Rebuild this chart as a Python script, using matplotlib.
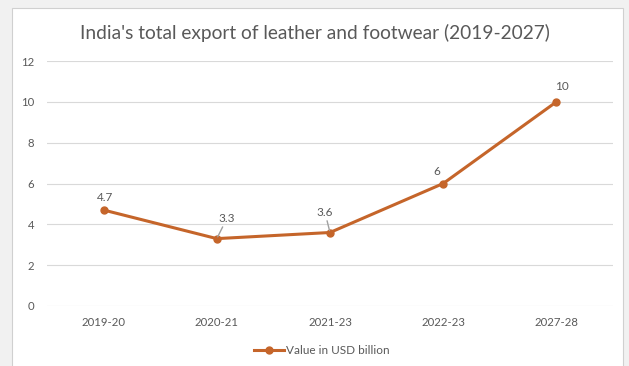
import matplotlib
matplotlib.use("Agg")
import matplotlib.pyplot as plt
from matplotlib.patches import Rectangle
from matplotlib.lines import Line2D

categories = ["2019-20", "2020-21", "2021-23", "2022-23", "2027-28"]
values = [4.7, 3.3, 3.6, 6, 10]
labels = ["4.7", "3.3", "3.6", "6", "10"]
yticks = [0, 2, 4, 6, 8, 10, 12]
series_name = "Value in USD billion"
title = "India's total export of leather and footwear (2019-2027)"

plt.rcParams['font.family'] = ['Lato', 'DejaVu Sans']
line_color = "#C5652A"
text_color = "#595959"

fig = plt.figure(figsize=(6.29, 3.66), dpi=100, facecolor="#f1f1f1")
frame = Rectangle((12/629, -0.05), (623-12)/629, 1 - 8/366 + 0.05,
                  transform=fig.transFigure, facecolor="white",
                  edgecolor="#d0d0d0", linewidth=0.8, zorder=-5)
fig.patches.append(frame)

ax = fig.add_axes([47/629, 1-306/366, (613-47)/629, (306-61)/366])
ax.set_zorder(2)
ax.set_facecolor("none")
x = list(range(len(categories)))
ax.plot(x, values, color=line_color, linewidth=2.2, marker="o",
        markersize=5, zorder=3)
ax.set_xlim(-0.5, len(categories) - 0.5)
ax.set_ylim(0, 12)
ax.set_yticks(yticks)
ax.set_xticks(x)
ax.set_xticklabels(categories)
ax.grid(axis="y", color="#d9d9d9", linewidth=0.8)
ax.set_axisbelow(True)
for s in ax.spines.values():
    s.set_visible(False)
ax.tick_params(axis="both", length=0, labelsize=8.2, labelcolor=text_color)
ax.tick_params(axis="x", pad=8)
ax.tick_params(axis="y", pad=9)

# data labels (offsets in pixels)
offsets = [(2, 13), (10, 20), (-5, 20), (-6, 12), (6, 15)]
leader = [False, True, True, False, False]
for i, (v, t) in enumerate(zip(values, labels)):
    dx, dy = offsets[i]
    if leader[i]:
        ax.annotate(t, xy=(i, v), xytext=(dx, dy), textcoords="offset pixels",
                    ha="center", va="center", fontsize=8.5, color=text_color,
                    arrowprops=dict(arrowstyle="-", color="#a0a0a0", lw=1.0,
                                    shrinkA=0, shrinkB=1.5))
    else:
        ax.annotate(t, xy=(i, v), xytext=(dx, dy), textcoords="offset pixels",
                    ha="center", va="center", fontsize=8.5, color=text_color)

fig.text(0.5, 1 - 33/366, title, ha="center", va="center", fontsize=13.8,
         color=text_color)

handle = Line2D([], [], color=line_color, linewidth=2.2, marker="o", markersize=5)
fig.legend([handle], [series_name], loc="center", bbox_to_anchor=(322/629, 1 - 351/366),
           frameon=False, fontsize=8.5, labelcolor=text_color, handlelength=2.5,
           handletextpad=0.2)

fig.savefig("out.png", dpi=100, facecolor=fig.get_facecolor())
